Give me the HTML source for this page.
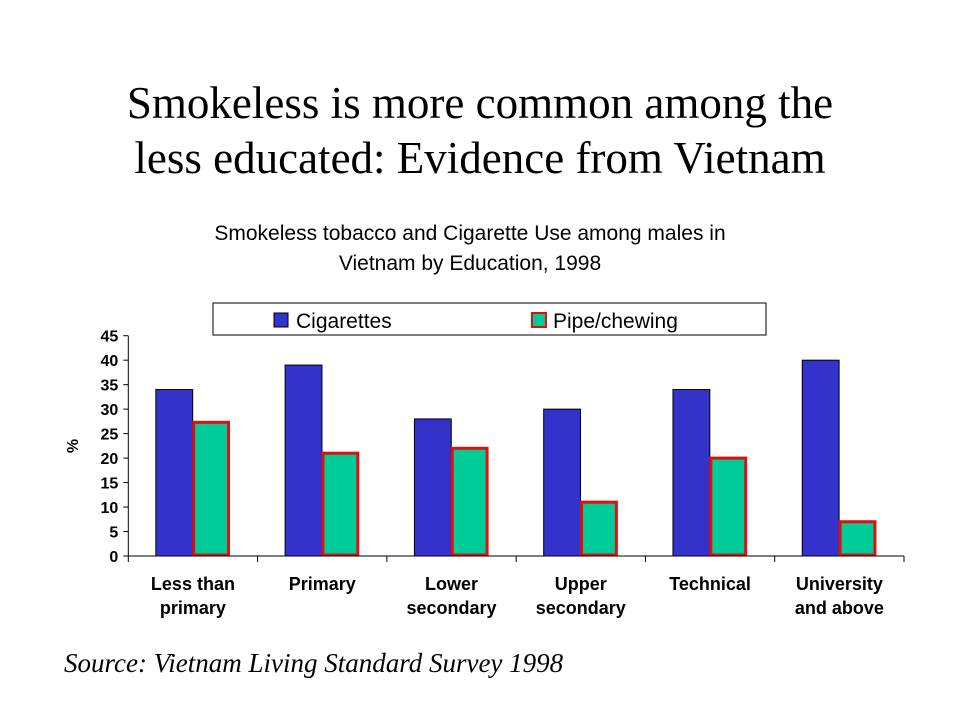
<!DOCTYPE html>
<html><head><meta charset="utf-8"><style>
body{margin:0;background:#fff;width:960px;height:720px;overflow:hidden}
svg{display:block}
</style></head><body>
<svg width="960" height="720">
<text x="480" y="118" text-anchor="middle" font-family="Liberation Serif, serif" font-size="45">Smokeless is more common among the</text>
<text x="480" y="173" text-anchor="middle" font-family="Liberation Serif, serif" font-size="45">less educated: Evidence from Vietnam</text>
<text x="470" y="240" text-anchor="middle" font-family="Liberation Sans, sans-serif" font-size="21">Smokeless tobacco and Cigarette Use among males in</text>
<text x="470" y="270" text-anchor="middle" font-family="Liberation Sans, sans-serif" font-size="21">Vietnam by Education, 1998</text>
<g>
<rect x="213" y="303" width="553" height="32" fill="#fff" stroke="#000" stroke-width="1"/>
<rect x="274" y="313" width="14" height="14" fill="#3333cc" stroke="#000"/>
<text x="296" y="328" font-family="Liberation Sans, sans-serif" font-size="21">Cigarettes</text>
<rect x="532" y="313" width="14" height="14" fill="#00cc99" stroke="#e01010" stroke-width="2"/>
<text x="553" y="328" font-family="Liberation Sans, sans-serif" font-size="21">Pipe/chewing</text>
</g>
<g id="plot"></g>
<text transform="translate(78,446) rotate(-90)" text-anchor="middle" font-family="Liberation Sans, sans-serif" font-weight="bold" font-size="16">%</text>
<text x="64" y="672" font-family="Liberation Serif, serif" font-style="italic" font-size="27">Source: Vietnam Living Standard Survey 1998</text>
</svg>
<script>
const categories=[["Less than","primary"],["Primary"],["Lower","secondary"],["Upper","secondary"],["Technical"],["University","and above"]];
const cigarettes=[34,39,28,30,34,40];
const pipeChewing=[27.3,21,22,11,20,7];
const yTicks=[0,5,10,15,20,25,30,35,40,45];
const X0=128.3,X1=904,Y0=556,Y45=335.7;
const cw=(X1-X0)/categories.length;
const y=v=>Y0-(v/45)*(Y0-Y45);
const xc=i=>X0+i*cw;
const g=document.getElementById('plot');
const NS='http://www.w3.org/2000/svg';
function mk(t,a){const e=document.createElementNS(NS,t);for(const k in a)e.setAttribute(k,a[k]);g.appendChild(e);return e;}
categories.forEach((c,i)=>{
  const bx=xc(i)+cw*0.213, bw=cw*0.285;
  let b=mk('rect',{x:bx,y:y(cigarettes[i]),width:bw,height:Y0-y(cigarettes[i]),fill:'#3333cc',stroke:'#000','stroke-width':1});
  
  
  let p=mk('rect',{x:bx+bw+1,y:y(pipeChewing[i]),width:bw-2,height:Y0-y(pipeChewing[i])-1,fill:'#00cc99',stroke:'#e01010','stroke-width':3});
  
  
  c.forEach((ln,j)=>{
    let t=mk('text',{x:xc(i)+cw/2,y:590+j*24,'text-anchor':'middle','font-family':'Liberation Sans, sans-serif','font-weight':'bold','font-size':'18'});
    t.textContent=ln;
    
    
  });
});
for(let i=0;i<=categories.length;i++){mk('line',{x1:xc(i),x2:xc(i),y1:Y0,y2:Y0+6,stroke:'#000'});}
mk('line',{x1:X0,x2:X1,y1:Y0,y2:Y0,stroke:'#000'});
mk('line',{x1:X0,x2:X0,y1:Y0,y2:Y45,stroke:'#000'});
yTicks.forEach(v=>{
  mk('line',{x1:X0-5,x2:X0,y1:y(v),y2:y(v),stroke:'#000'});
  let t=mk('text',{x:X0-10,y:y(v)+6,'text-anchor':'end','font-family':'Liberation Sans, sans-serif','font-weight':'bold','font-size':'16'});
  t.textContent=v;
  
  
});
</script>
</body></html>
